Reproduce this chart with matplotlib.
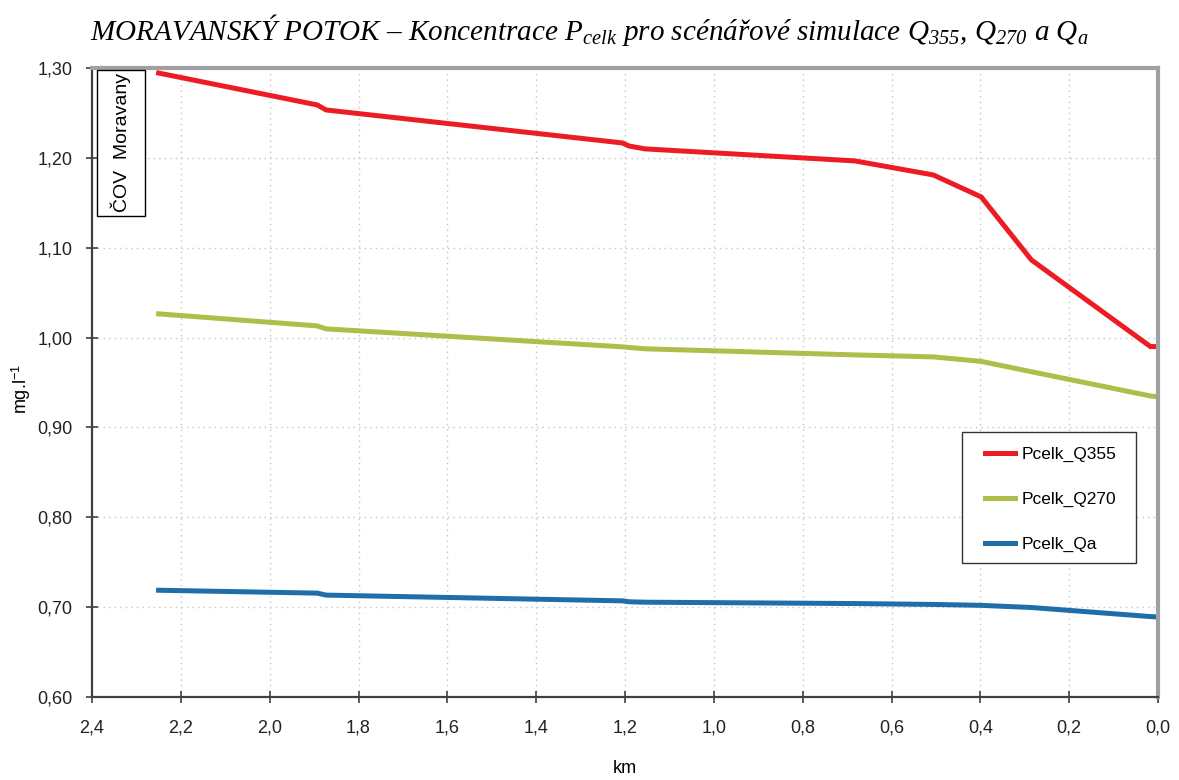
import matplotlib
matplotlib.use("Agg")
import matplotlib.pyplot as plt
from matplotlib.patches import Rectangle
from matplotlib.ticker import MultipleLocator, FuncFormatter

# River kilometre (stationing) and total phosphorus concentrations [mg/l]
km = [2.25, 1.893, 1.873, 1.206, 1.191, 1.155, 0.682, 0.506, 0.398, 0.285, 0.017, 0.0]
p_q355 = [1.2944, 1.2589, 1.2533, 1.2166, 1.2132, 1.2100, 1.1966, 1.1810, 1.1565, 1.0864, 0.9900, 0.9900]
p_q270 = [1.0264, 1.0130, 1.0097, 0.9897, 0.9890, 0.9875, 0.9807, 0.9785, 0.9735, 0.9620, 0.9350, 0.9340]
p_qa = [0.7188, 0.7156, 0.7134, 0.7070, 0.7060, 0.7055, 0.7040, 0.7030, 0.7020, 0.6996, 0.6895, 0.6890]

series_labels = ["Pcelk_Q355", "Pcelk_Q270", "Pcelk_Qa"]
series_colors = ["#ED1C24", "#B0BD4B", "#1F6EA8"]

plt.rcParams["font.family"] = ["Liberation Sans", "DejaVu Sans"]
plt.rcParams["mathtext.fontset"] = "custom"
plt.rcParams["mathtext.rm"] = "Liberation Serif:italic"
plt.rcParams["mathtext.it"] = "Liberation Serif:italic"

fig = plt.figure(figsize=(11.79, 7.80), dpi=100)
ax = fig.add_axes([92 / 1179, 83 / 780, 1066 / 1179, 629 / 780])

for y, lab, col in zip([p_q355, p_q270, p_qa], series_labels, series_colors):
    ax.plot(km, y, color=col, lw=3.6, label=lab, solid_joinstyle="miter")

ax.set_xlim(2.4, 0.0)
ax.set_ylim(0.60, 1.30)
ax.xaxis.set_major_locator(MultipleLocator(0.2))
ax.yaxis.set_major_locator(MultipleLocator(0.1))
ax.xaxis.set_major_formatter(FuncFormatter(lambda v, p: f"{v:.1f}".replace(".", ",")))
ax.yaxis.set_major_formatter(FuncFormatter(lambda v, p: f"{v:.2f}".replace(".", ",")))
ax.tick_params(axis="both", direction="inout", length=8, width=1.2,
               color="#404040", labelsize=13, labelcolor="#222222")
ax.tick_params(axis="x", pad=12)
ax.tick_params(axis="y", pad=10)

ax.grid(True, color="#C4C4C4", linestyle=(0, (1, 3)), linewidth=1.0)
ax.set_axisbelow(True)

for s in ["left", "bottom"]:
    ax.spines[s].set_color("#404040")
    ax.spines[s].set_linewidth(1.6)
for s in ["top", "right"]:
    ax.spines[s].set_color("#A0A0A0")
    ax.spines[s].set_linewidth(3.0)

ax.set_xlabel("km", fontsize=13)
ax.xaxis.set_label_coords(0.5, -0.100)
ylab = ax.set_ylabel(r"mg.l$^{\mathregular{-1}}$", fontsize=13)
ylab.set_va("center")
ax.yaxis.set_label_coords(-0.066, 0.49)

# Outfall marker: boxed vertical label at the upstream end
ax.add_patch(Rectangle((0.0047, 0.7647), 0.045, 0.232, transform=ax.transAxes,
                       facecolor="white", edgecolor="black", linewidth=1.0, zorder=4))
ax.text(0.0272, 0.8808, "ČOV  Moravany", transform=ax.transAxes, rotation=90,
        ha="center", va="center", fontsize=14, zorder=5)

# Legend with a hand-placed frame
ax.add_patch(Rectangle((0.8161, 0.2130), 0.1632, 0.2083, transform=ax.transAxes,
                       facecolor="white", edgecolor="#333333", linewidth=1.0, zorder=4))
leg = ax.legend(loc="upper left", bbox_to_anchor=(0.8377, 0.398), fontsize=12.5,
                frameon=False, borderpad=0.0, labelspacing=1.72, handlelength=1.75,
                handletextpad=0.35, borderaxespad=0.0)
leg.set_zorder(5)

fig.text(0.5, 0.962,
         r"MORAVANSKÝ POTOK – Koncentrace P$_{celk}$ pro scénářové simulace "
         r"Q$_{355}$, Q$_{270}$ a Q$_{a}$",
         ha="center", va="center", fontsize=21, style="italic",
         family=["Liberation Serif", "DejaVu Serif"])

fig.savefig("out.png", dpi=100)
